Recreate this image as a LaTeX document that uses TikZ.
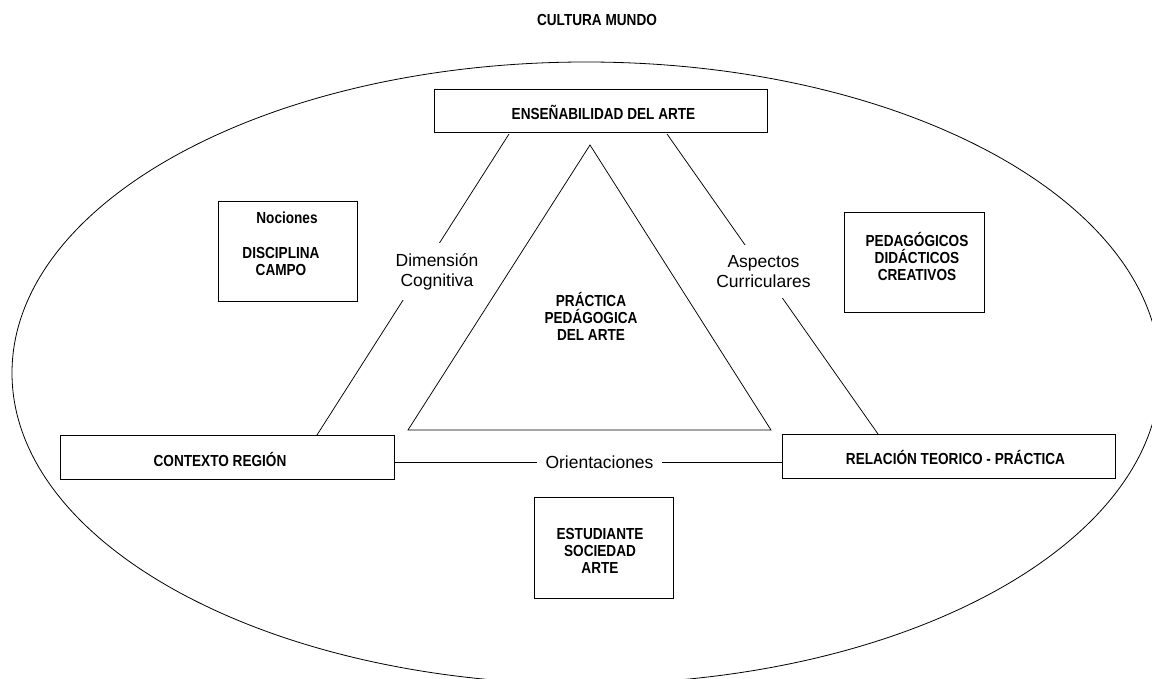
\documentclass[tikz,border=0pt]{standalone}
\usepackage{fontspec}
\setmainfont{Liberation Sans}
\newfontfamily\bnarrow[FakeStretch=0.85]{Liberation Sans}
\begin{document}
\begin{tikzpicture}[x=1pt,y=-1pt,
  box/.style={draw, line width=1pt, inner sep=0pt},
  conn/.style={line width=0.75pt},
  btxt/.style={font=\bnarrow\bfseries\fontsize{16}{17}\selectfont, align=center, inner sep=0pt},
  lab/.style={font=\fontsize{17.5}{20}\selectfont, align=center, fill=white, inner sep=0pt}]
\useasboundingbox (0,0) rectangle (1152,679);
\fill[white] (0,0) rectangle (1152,679);
% outer ellipse
\draw[line width=0.8pt] (586,373) ellipse [x radius=574, y radius=311];
% title
\node[btxt] (title) at (597,20) {CULTURA MUNDO};
% boxes
\node[box, minimum width=333, minimum height=43] (ens) at (600.5,111.5) {};
\node[btxt] (enst) at (603.5,112.5) {ENSEÑABILIDAD DEL ARTE};
\node[box, minimum width=139, minimum height=100] (noc) at (287.5,252) {};
\node[btxt] (noct) at (287,217.5) {Nociones};
\node[btxt] (disc) at (281,261) {DISCIPLINA\\CAMPO};
\node[box, minimum width=140, minimum height=100] (ped) at (914.5,263) {};
\node[btxt] (pedt) at (917,256.5) {PEDAGÓGICOS\\DIDÁCTICOS\\CREATIVOS};
\node[box, minimum width=334, minimum height=44] (ctx) at (227,457) {};
\node[btxt] (ctxt) at (220,459) {CONTEXTO REGIÓN};
\node[box, minimum width=333, minimum height=44] (rel) at (949,456) {};
\node[btxt] (relt) at (955.5,457) {RELACIÓN TEORICO - PRÁCTICA};
\node[box, minimum width=139, minimum height=101] (est) at (603.5,547.5) {};
\node[btxt] (estt) at (600,550.5) {ESTUDIANTE\\SOCIEDAD\\ARTE};
% central triangle
\draw[conn] (590,145) -- (408,430) -- (771,430) -- cycle;
\node[btxt] (prac) at (591,316) {PRÁCTICA\\PEDÁGOGICA\\DEL ARTE};
% connectors
\coordinate (eL) at (509,134);
\coordinate (cT) at (317,435);
\coordinate (eR) at (667,134);
\coordinate (rT) at (878,434);
\coordinate (cR) at (394,462);
\coordinate (rL) at (782,462);
\draw[conn] (eL) -- (cT);
\draw[conn] (eR) -- (rT);
\draw[conn] (cR) -- (rL);
\node[lab, minimum width=92, minimum height=57] (dim) at (437,271.5) {Dimensión\\Cognitiva};
\node[lab, minimum width=96, minimum height=53] (asp) at (763.5,271.5) {Aspectos\\Curriculares};
\node[lab, minimum width=125, minimum height=20] (ori) at (599.5,462) {Orientaciones};
\end{tikzpicture}
\end{document}
